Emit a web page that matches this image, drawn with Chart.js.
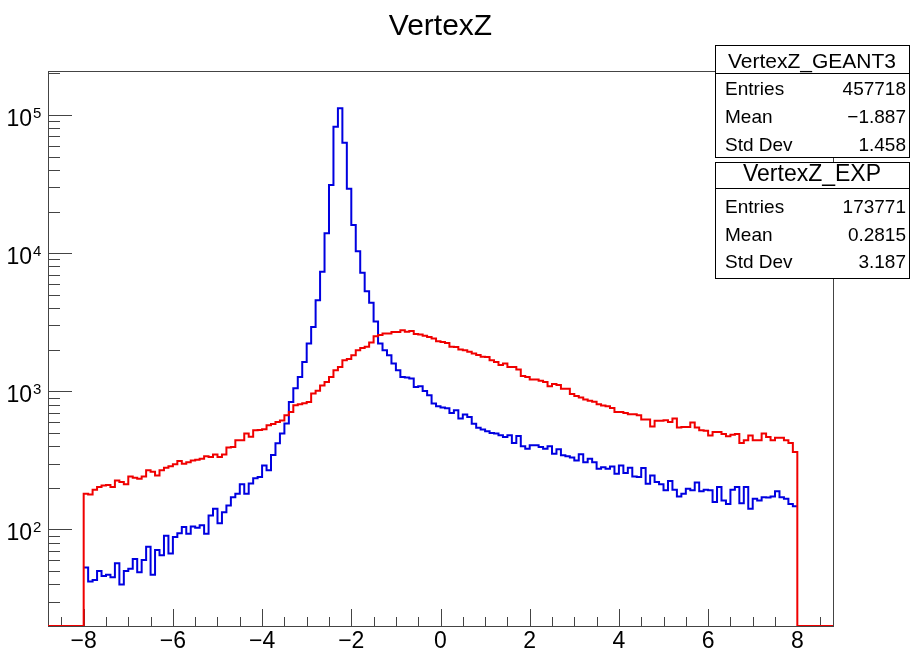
<html>
<head>
<title>VertexZ</title>
<style>
  body { margin: 0; background: #fff; }
</style>
</head>
<body>
<canvas id="myChart" width="910" height="652"></canvas>
<script src="https://cdn.jsdelivr.net/npm/chart.js@4.4.0/dist/chart.umd.min.js"></script>
<script>
// 160 bins of width 0.1 from -8 to 8, axis drawn from -8.8 to 8.8 (ROOT style)
var binLow = -8;
var binWidth = 0.1;
var xMin = -8.8, xMax = 8.8;
var yMin = 20, yMax = 2.08e5;

// counts per bin (log scale)
var geantCounts = [
  53, 42, 43, 50, 46, 47, 45, 57, 40, 50,
  52, 61, 49, 60, 75, 47, 71, 65, 90, 67,
  88, 94, 104, 93, 105, 103, 107, 93, 126, 141,
  111, 133, 149, 171, 181, 212, 181, 215, 235, 240,
  290, 268, 345, 420, 495, 585, 835, 1050, 1270, 1630,
  2220, 2920, 4560, 7330, 13900, 31100, 82000, 112000, 63000, 29200,
  16000, 10300, 7200, 5300, 4370, 3200, 2215, 1980, 1820, 1590,
  1420, 1270, 1260, 1236, 1074, 1085, 1005, 935, 814, 778,
  762, 752, 697, 728, 634, 678, 652, 583, 545, 528,
  513, 499, 494, 480, 467, 480, 422, 475, 400, 384,
  406, 406, 395, 384, 400, 353, 380, 344, 338, 331,
  316, 350, 307, 325, 307, 275, 282, 275, 286, 253,
  290, 256, 280, 242, 240, 278, 214, 246, 220, 212,
  192, 224, 194, 173, 181, 197, 192, 219, 189, 194,
  192, 158, 203, 162, 153, 194, 203, 155, 203, 141,
  167, 162, 171, 170, 173, 189, 171, 167, 153, 147
];

var expCounts = [
  181, 179, 194, 203, 208, 210, 203, 226, 220, 212,
  242, 237, 233, 242, 268, 262, 246, 268, 280, 287,
  296, 313, 299, 306, 316, 320, 325, 338, 334, 349,
  334, 349, 391, 395, 442, 442, 494, 469, 522, 525,
  531, 567, 580, 599, 615, 670, 708, 792, 806, 820,
  835, 962, 1010, 1100, 1168, 1270, 1420, 1500, 1678, 1710,
  1823, 1982, 2060, 2100, 2250, 2500, 2550, 2620, 2620, 2690,
  2690, 2770, 2700, 2730, 2600, 2580, 2520, 2470, 2410, 2300,
  2270, 2240, 2100, 2090, 2010, 1980, 1930, 1880, 1830, 1780,
  1770, 1680, 1630, 1550, 1590, 1500, 1500, 1436, 1290, 1270,
  1215, 1215, 1190, 1168, 1087, 1130, 1112, 1045, 1045, 955,
  925, 900, 871, 854, 840, 805, 790, 780, 757, 708,
  708, 697, 681, 681, 670, 624, 624, 557, 612, 612,
  617, 599, 634, 546, 551, 551, 594, 546, 523, 518,
  478, 507, 507, 490, 472, 485, 490, 422, 442, 478,
  442, 442, 495, 467, 442, 460, 460, 442, 422, 363
];

var xTicks = [-8, -6, -4, -2, 0, 2, 4, 6, 8];
var yDecades = [2, 3, 4, 5];

var statsGeant = [['Entries', '457718'], ['Mean', '\u22121.887'], ['Std Dev', '1.458']];
var statsExp = [['Entries', '173771'], ['Mean', '0.2815'], ['Std Dev', '3.187']];

var FONT = '"Liberation Sans", Arial, Helvetica, sans-serif';

// empty bins sit on the frame bottom like ROOT does;
// withFloor=false leaves out the parts that the top histogram hides anyway
function histPoints(counts, withFloor) {
  var pts = [];
  if (withFloor) pts.push({x: xMin, y: yMin});
  for (var i = 0; i < counts.length; i++) {
    pts.push({x: binLow + i * binWidth, y: counts[i]});
  }
  var xEnd = binLow + counts.length * binWidth;
  if (withFloor) {
    pts.push({x: xEnd, y: yMin});
    pts.push({x: xMax, y: yMin});
  } else {
    pts.push({x: xEnd, y: counts[counts.length - 1]});
  }
  return pts;
}

function fmt(v) {
  return v < 0 ? '\u2212' + (-v) : String(v);
}

function statsBox(ctx, x, y, w, h, sepY, title, titleSize, titleBase, rows, rowBases) {
  ctx.save();
  ctx.fillStyle = '#fff';
  ctx.fillRect(x, y, w, h);
  ctx.strokeStyle = '#000';
  ctx.lineWidth = 1;
  ctx.strokeRect(x + 0.5, y + 0.5, w, h);
  ctx.beginPath();
  ctx.moveTo(x, sepY + 0.5);
  ctx.lineTo(x + w, sepY + 0.5);
  ctx.stroke();
  ctx.fillStyle = '#000';
  ctx.textBaseline = 'alphabetic';
  ctx.font = titleSize + 'px ' + FONT;
  ctx.textAlign = 'center';
  ctx.fillText(title, x + w / 2, titleBase);
  ctx.font = '19px ' + FONT;
  for (var i = 0; i < rows.length; i++) {
    ctx.textAlign = 'left';
    ctx.fillText(rows[i][0], x + 10, rowBases[i]);
    ctx.textAlign = 'right';
    ctx.fillText(rows[i][1], x + w - 3, rowBases[i]);
  }
  ctx.restore();
}

var rootStyle = {
  id: 'rootStyle',
  beforeDatasetsDraw: function(chart) {
    var ctx = chart.ctx;
    var a = chart.chartArea;
    var xs = chart.scales.x, ys = chart.scales.y;
    ctx.save();
    ctx.strokeStyle = '#444';
    ctx.lineWidth = 1;
    ctx.strokeRect(a.left + 0.5, a.top + 0.5, a.right - a.left, a.bottom - a.top);

    // x ticks: major every 2, minor every 0.5
    ctx.beginPath();
    for (var v = -8.5; v <= 8.5; v += 0.5) {
      var px = Math.round(xs.getPixelForValue(v)) + 0.5;
      var major = xTicks.indexOf(v) >= 0;
      ctx.moveTo(px, a.bottom);
      ctx.lineTo(px, a.bottom - (major ? 17 : 9));
    }
    // y ticks: decades and 2..9
    for (var d = 1; d <= 5; d++) {
      for (var m = 1; m <= 9; m++) {
        var val = m * Math.pow(10, d);
        if (val < yMin || val > yMax) continue;
        var py = Math.round(ys.getPixelForValue(val)) + 0.5;
        ctx.moveTo(a.left, py);
        ctx.lineTo(a.left + (m === 1 ? 24 : 12), py);
      }
    }
    ctx.stroke();

    ctx.fillStyle = '#000';
    ctx.textBaseline = 'alphabetic';
    ctx.font = '23px ' + FONT;
    ctx.textAlign = 'center';
    xTicks.forEach(function(t) {
      ctx.fillText(fmt(t), xs.getPixelForValue(t), a.bottom + 22);
    });
    yDecades.forEach(function(e) {
      var py = ys.getPixelForValue(Math.pow(10, e));
      ctx.font = '23px ' + FONT;
      ctx.textAlign = 'right';
      ctx.fillText('10', 32, py + 11);
      ctx.font = '15px ' + FONT;
      ctx.textAlign = 'left';
      ctx.fillText(String(e), 33, py + 3);
    });
    ctx.restore();
  },
  afterDraw: function(chart) {
    var ctx = chart.ctx;
    var a = chart.chartArea;
    ctx.save();
    ctx.fillStyle = '#000';
    ctx.font = '30px ' + FONT;
    ctx.textAlign = 'center';
    ctx.textBaseline = 'alphabetic';
    ctx.fillText('VertexZ', (a.left + a.right) / 2, 35);
    ctx.restore();
    statsBox(ctx, 715, 45, 194, 112, 73, 'VertexZ_GEANT3', 21, 68, statsGeant, [95, 123, 151]);
    statsBox(ctx, 715, 162, 194, 116, 188, 'VertexZ_EXP', 23, 181, statsExp, [213, 241, 268]);
  }
};

var ctx = document.getElementById('myChart').getContext('2d');
var chart = new Chart(ctx, {
  type: 'line',
  data: {
    datasets: [{
      label: 'VertexZ_EXP',
      data: histPoints(expCounts, true),
      borderColor: '#f00000',
      borderWidth: 2,
      stepped: true,
      fill: false,
      pointRadius: 0,
      order: 0
    },
    {
      label: 'VertexZ_GEANT3',
      data: histPoints(geantCounts, false),
      borderColor: '#0000e0',
      borderWidth: 2,
      stepped: true,
      fill: false,
      pointRadius: 0,
      order: 1
    }]
  },
  options: {
    responsive: false,
    animation: false,
    layout: { padding: { left: 48, top: 71, right: 77, bottom: 26 } },
    plugins: {
      legend: { display: false },
      tooltip: { enabled: false },
      title: { display: false }
    },
    scales: {
      x: { type: 'linear', min: xMin, max: xMax, display: false },
      y: { type: 'logarithmic', min: yMin, max: yMax, display: false }
    }
  },
  plugins: [rootStyle]
});
</script>
</body>
</html>
